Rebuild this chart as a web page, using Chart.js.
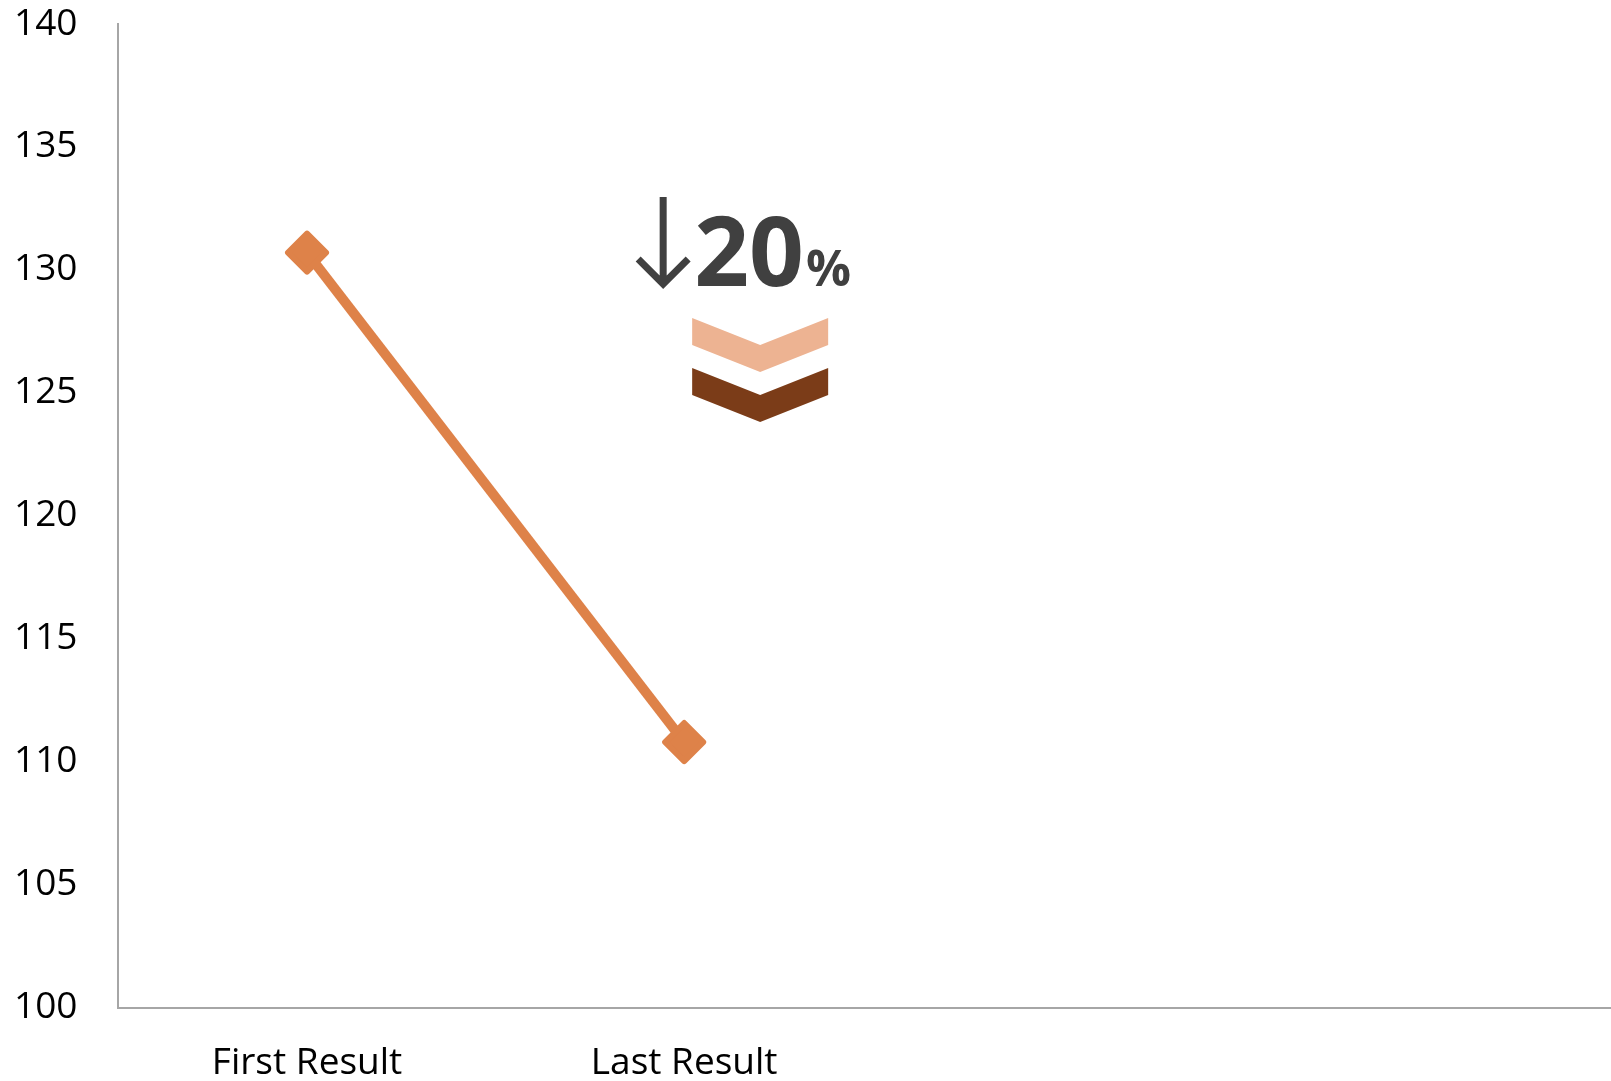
<!DOCTYPE html>
<html>
<head>
<meta charset="utf-8">
<script src="https://cdn.jsdelivr.net/npm/chart.js@4/dist/chart.umd.min.js"></script>
<style>
  html, body { margin: 0; padding: 0; background: #fff; overflow: hidden; }
  /* the plot runs a little past the right edge of the window, as in the original */
  #wrap { width: 1627px; height: 1081px; position: relative; }
</style>
</head>
<body>
<div id="wrap"><canvas id="result-chart"></canvas></div>
<script>
var categories = ["First Result", "Last Result", "", ""];
var results = [130.7, 110.8, null, null];
var yTicks = { min: 100, max: 140, step: 5 };
var changeLabel = { arrow: "\u2193", value: "20", unit: "%" };

var orange = "#DE8249";
var textGrey = "#404040";

// callout with the arrow, the big number and two chevrons
var callout = {
  id: "callout",
  beforeDatasetsDraw: function(chart) {
    chart.ctx.lineJoin = "round";
  },
  afterDraw: function(chart) {
    var ctx = chart.ctx;
    var x0 = chart.scales.x.getPixelForValue(1) + 76; // centre of chevrons
    var top = chart.chartArea.top;
    ctx.save();

    // arrow
    ctx.strokeStyle = textGrey;
    ctx.lineWidth = 7;
    ctx.lineJoin = "miter";
    ctx.beginPath();
    ctx.moveTo(x0 - 97, top + 173);
    ctx.lineTo(x0 - 97, top + 258);
    ctx.moveTo(x0 - 122, top + 235);
    ctx.lineTo(x0 - 97, top + 260);
    ctx.lineTo(x0 - 72, top + 235);
    ctx.stroke();

    // number
    ctx.fillStyle = textGrey;
    ctx.textBaseline = "alphabetic";
    ctx.font = "bold 96px 'Open Sans'";
    ctx.fillText(changeLabel.value, x0 - 66, top + 262);
    var w = ctx.measureText(changeLabel.value).width;
    ctx.font = "bold 50px 'Open Sans'";
    ctx.fillText(changeLabel.unit, x0 - 66 + w + 2, top + 262);

    // chevrons
    function chevron(y, colour) {
      ctx.fillStyle = colour;
      ctx.beginPath();
      ctx.moveTo(x0 - 68, y);
      ctx.lineTo(x0, y + 27);
      ctx.lineTo(x0 + 68, y);
      ctx.lineTo(x0 + 68, y + 27);
      ctx.lineTo(x0, y + 54);
      ctx.lineTo(x0 - 68, y + 27);
      ctx.closePath();
      ctx.fill();
    }
    chevron(top + 294, "#EDB392");
    chevron(top + 344, "#7B3C18");
    ctx.restore();
  }
};

var resultChart = new Chart(document.getElementById("result-chart"), {
  type: "line",
  data: {
    labels: categories,
    datasets: [{
      data: results,
      borderColor: orange,
      backgroundColor: orange,
      borderWidth: 10,
      pointStyle: "rectRot",
      pointRadius: 19,
      pointBorderWidth: 6,
      pointBackgroundColor: orange,
      pointBorderColor: orange,
      spanGaps: false
    }]
  },
  options: {
    responsive: true,
    maintainAspectRatio: false,
    animation: false,
    layout: { autoPadding: false, padding: { top: 24, right: 0, bottom: -5, left: 14 } },
    plugins: { legend: { display: false }, tooltip: { enabled: false } },
    scales: {
      x: {
        offset: true,
        // tickLength is only used as spacing, the tick marks are not drawn
        grid: { display: false, drawTicks: true, tickLength: 34 },
        border: { display: true, color: "#A6A6A6", width: 2 },
        ticks: {
          padding: 0,
          maxRotation: 0,
          color: "#000",
          font: { family: "'Open Sans'", size: 37, lineHeight: 1.2 }
        }
      },
      y: {
        min: yTicks.min,
        max: yTicks.max,
        grid: { display: false, drawTicks: true, tickLength: 41 },
        border: { display: true, color: "#A6A6A6", width: 2 },
        ticks: {
          stepSize: yTicks.step,
          padding: 0,
          color: "#000",
          font: { family: "'Open Sans'", size: 37, lineHeight: 1.2 }
        }
      }
    }
  },
  plugins: [callout]
});
</script>
</body>
</html>
